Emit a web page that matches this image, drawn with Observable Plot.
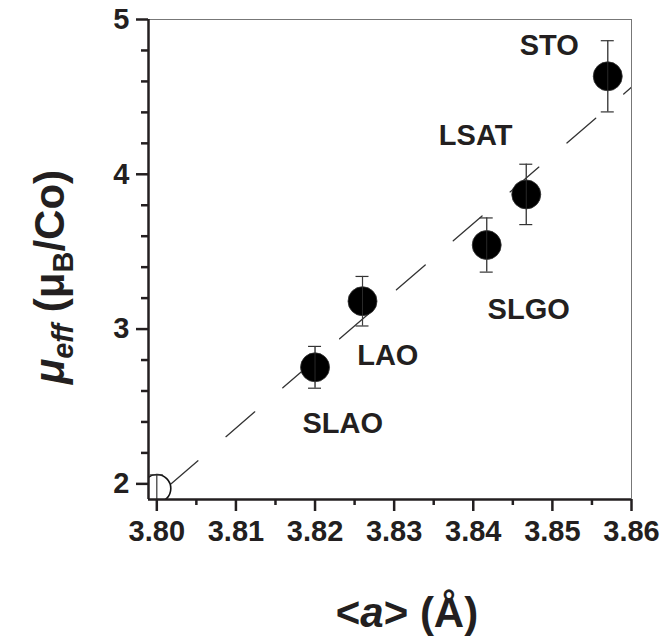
<!DOCTYPE html>
<html><head><meta charset="utf-8">
<script src="https://cdn.jsdelivr.net/npm/d3@7"></script>
<script src="https://cdn.jsdelivr.net/npm/@observablehq/plot@0.6"></script>
<style>
html,body{margin:0;padding:0;background:#fff;}
#chart svg{font-family:"Liberation Sans",Arial,Helvetica,sans-serif;background:#fff;}
</style></head><body><div id="chart"></div>
<script>
// Films on substrates
const substrates = ["SLAO", "LAO", "SLGO", "LSAT", "STO"];
const latticeA = [3.8200, 3.8260, 3.8417, 3.8467, 3.8570];
const muEff = [2.753, 3.180, 3.543, 3.870, 4.633];
const muErr = [0.135, 0.160, 0.175, 0.195, 0.230];
// Bulk reference (open circle)
const bulkA = [3.8000];
const bulkMu = [1.970];
const bulkErr = [0.088];
// Dashed linear guide (endpoints)
const fitA = [3.8000, 3.8600];
const fitMu = [1.920, 4.562];
// Point labels
const labelText = ["SLAO", "LAO", "SLGO", "LSAT", "STO"];
const labelA = [3.8235, 3.8292, 3.8470, 3.8403, 3.8496];
const labelMu = [2.390, 2.827, 3.126, 4.252, 4.828];
// Ticks
const xTicks = [3.80, 3.81, 3.82, 3.83, 3.84, 3.85, 3.86];
const xMinor = [3.805, 3.815, 3.825, 3.835, 3.845, 3.855];
const yTicks = [2, 3, 4, 5];
const yMinor = [2.2, 2.4, 2.6, 2.8, 3.2, 3.4, 3.6, 3.8, 4.2, 4.4, 4.6, 4.8];
const xDomain = [3.79895, 3.86];
const yDomain = [1.899, 5];

const pts = substrates.map((s, i) => ({s, a: latticeA[i], mu: muEff[i], lo: muEff[i] - muErr[i], hi: muEff[i] + muErr[i]}));
const bulk = bulkA.map((a, i) => ({a, mu: bulkMu[i], lo: bulkMu[i] - bulkErr[i], hi: bulkMu[i] + bulkErr[i]}));
const fit = fitA.map((a, i) => ({a, mu: fitMu[i]}));
const labels = labelText.map((t, i) => ({t, a: labelA[i], mu: labelMu[i]}));

const ink = "#231f20";
const chart = Plot.plot({
  width: 663, height: 637,
  marginLeft: 148, marginRight: 32, marginTop: 19, marginBottom: 138,
  x: {domain: xDomain},
  y: {domain: yDomain},
  marks: [
    Plot.ruleY([yDomain[1]], {stroke: "#777", strokeWidth: 1}),
    Plot.ruleX([xDomain[1]], {stroke: "#777", strokeWidth: 1}),
    Plot.line(fit, {x: "a", y: "mu", stroke: "#333", strokeWidth: 1.3, strokeDasharray: "38,37", strokeDashoffset: 58.7, clip: true}),
    Plot.dot(bulk, {x: "a", y: "mu", r: 14, fill: "white", stroke: "#111", strokeWidth: 1.6, clip: true}),
    Plot.ruleX(bulk, {x: "a", y1: "lo", y2: "hi", stroke: "#333", strokeWidth: 1.2, clip: true}),
    Plot.ruleY(bulk, {y: "hi", x1: "a", x2: "a", insetLeft: -6.5, insetRight: -6.5, stroke: "#333", strokeWidth: 1.2}),
    Plot.ruleX(pts, {x: "a", y1: "lo", y2: "hi", stroke: "#333", strokeWidth: 1.2}),
    Plot.ruleY(pts, {y: "hi", x1: "a", x2: "a", insetLeft: -6.5, insetRight: -6.5, stroke: "#333", strokeWidth: 1.2}),
    Plot.ruleY(pts, {y: "lo", x1: "a", x2: "a", insetLeft: -6.5, insetRight: -6.5, stroke: "#333", strokeWidth: 1.2}),
    Plot.dot(pts, {x: "a", y: "mu", r: 14.5, fill: "black", stroke: "#333", strokeWidth: 0.8}),
    Plot.ruleX(pts, {x: "a", y1: "lo", y2: "hi", stroke: "#444", strokeWidth: 1, strokeOpacity: 0.6}),
    Plot.text(labels, {x: "a", y: "mu", text: "t", fontSize: 29, fontWeight: "bold", fill: ink}),
    Plot.axisX({ticks: xMinor, tickSize: 6, tickFormat: () => "", label: null, stroke: ink, strokeWidth: 2.5}),
    Plot.axisX({ticks: xTicks, tickSize: 12, tickPadding: 9, tickFormat: d3.format(".2f"), label: null, fontSize: 29, fontWeight: "bold", stroke: ink, strokeWidth: 2.5, fill: ink}),
    Plot.axisY({ticks: yMinor, tickSize: 7, tickFormat: () => "", label: null, stroke: ink, strokeWidth: 2.5}),
    Plot.axisY({ticks: yTicks, tickSize: 12, tickPadding: 7, tickFormat: d3.format("d"), label: null, fontSize: 29, fontWeight: "bold", stroke: ink, strokeWidth: 2.5, fill: ink}),
    Plot.ruleX([xDomain[0]], {stroke: ink, strokeWidth: 2.5}),
    Plot.ruleY([yDomain[0]], {stroke: ink, strokeWidth: 2.5})
  ]
});
document.getElementById("chart").appendChild(chart);

const svg = d3.select(chart);
svg.selectAll('g[aria-label$="tick label"] text').style("font-size", "29px").style("font-weight", "bold");
// x title
const xt = svg.append("text").attr("x", 407).attr("y", 627).attr("text-anchor", "middle")
  .attr("font-size", 42).attr("font-weight", "bold").attr("fill", ink);
xt.append("tspan").text("<");
xt.append("tspan").attr("font-style", "italic").text("a");
xt.append("tspan").text(">");
xt.append("tspan").text(" (Å)");
// y title
const yt = svg.append("text").attr("transform", "translate(64,277) rotate(-90)").attr("text-anchor", "middle")
  .attr("font-size", 42).attr("font-weight", "bold").attr("fill", ink);
yt.append("tspan").attr("font-style", "italic").text("μ");
yt.append("tspan").attr("font-style", "italic").attr("font-size", 29).attr("dy", 9).text("eff");
yt.append("tspan").attr("dy", -9).text(" (μ");
yt.append("tspan").attr("font-size", 29).attr("dy", 9).text("B");
yt.append("tspan").attr("dy", -9).text("/Co)");
</script></body></html>
